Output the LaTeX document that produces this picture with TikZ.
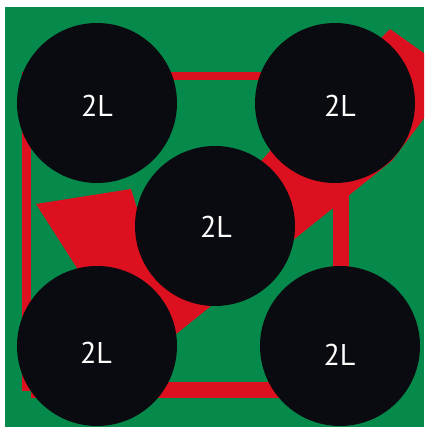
\documentclass[tikz,border=0pt]{standalone}
\usepackage{fontspec}
\setmainfont{PT Sans}
\definecolor{bggreen}{RGB}{6,138,76}
\definecolor{arrred}{RGB}{220,16,31}
\definecolor{ballblack}{RGB}{10,11,16}
\tikzset{
  ball/.style={circle, fill=ballblack, inner sep=0pt, minimum size=160pt},
  lab/.style={text=white, inner sep=0pt, font=\fontsize{30}{30}\selectfont},
}
\begin{document}
\begin{tikzpicture}[x=1pt,y=-1pt]
\useasboundingbox (0,0) rectangle (424,427);
\clip (0,0) rectangle (424,427);
% background
\fill[bggreen] (5,7) rectangle (424,427);
% frame
\fill[arrred] (22,72) rectangle (31,391);
\fill[arrred] (22,72) rectangle (349,80);
\fill[arrred] (333,72) rectangle (349,398);
\fill[arrred] (31,382) rectangle (349,398);
% arrow
\fill[arrred] (36,204) -- (131,189) -- (140,218) -- (246,178) -- (286,133)
  -- (370,49) -- (390,29) -- (456,76) -- (392,160.7) -- (150,355)
  -- (90,288.3) -- cycle;
% circles
\node[ball] (tl) at (97,103) {};
\node[ball] (tr) at (335,103) {};
\node[ball] (mid) at (215,226) {};
\node[ball] (bl) at (97,346) {};
\node[ball] (br) at (340,346) {};
% labels
\node[lab] (tlt) at (97,105.5) {2L};
\node[lab] (trt) at (340,105.5) {2L};
\node[lab] (midt) at (216,226.5) {2L};
\node[lab] (blt) at (96,353) {2L};
\node[lab] (brt) at (339.5,354.5) {2L};
\end{tikzpicture}
\end{document}
